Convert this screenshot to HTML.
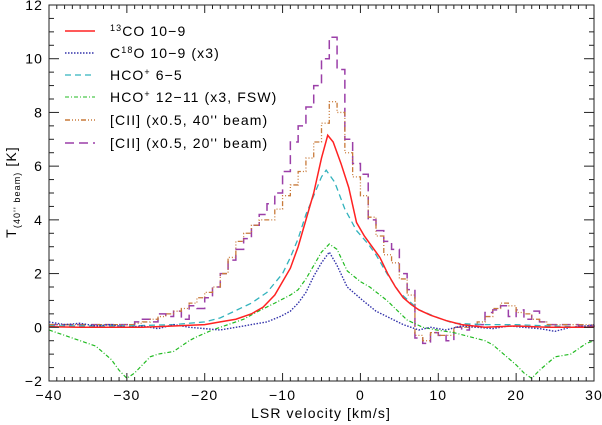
<!DOCTYPE html>
<html><head><meta charset="utf-8"><style>
body{margin:0;background:#fff}
svg{display:block;font-family:"Liberation Sans","DejaVu Sans",sans-serif}
text{letter-spacing:1.1px}
</style></head><body>
<svg id="c" width="602" height="425">
 <text x="321" y="418" text-anchor="middle" font-size="14">LSR velocity [km/s]</text>
 <text transform="translate(16,192) rotate(-90)" text-anchor="middle" font-size="14">T<tspan font-size="9" dy="4">(40'' beam)</tspan><tspan dy="-4"> [K]</tspan></text>
 <g font-size="14">
  <line x1="65" x2="95" y1="31" y2="31" stroke="#ff2222" stroke-width="1.4"/>
  <text x="110" y="36"><tspan font-size="9" dy="-5">13</tspan><tspan dy="5">CO 10−9</tspan></text>
  <line x1="65" x2="95" y1="53" y2="53" stroke="#3333aa" stroke-width="1.4" stroke-dasharray="1.5,1.5"/>
  <text x="110" y="58">C<tspan font-size="9" dy="-5">18</tspan><tspan dy="5">O 10−9 (x3)</tspan></text>
  <line x1="65" x2="95" y1="75" y2="75" stroke="#33b3bd" stroke-width="1.2" stroke-dasharray="6,4"/>
  <text x="110" y="80">HCO<tspan font-size="9" dy="-5">+</tspan><tspan dy="5"> 6−5</tspan></text>
  <line x1="65" x2="95" y1="97" y2="97" stroke="#22bb22" stroke-width="1.1" stroke-dasharray="4,2,1,2"/>
  <text x="110" y="102">HCO<tspan font-size="9" dy="-5">+</tspan><tspan dy="5"> 12−11 (x3, FSW)</tspan></text>
  <line x1="65" x2="95" y1="120" y2="120" stroke="#c87a3a" stroke-width="1.4" stroke-dasharray="5,2,1,2,1,2,1,2"/>
  <text x="110" y="125">[CII] (x0.5, 40'' beam)</text>
  <line x1="65" x2="95" y1="143" y2="143" stroke="#9b3fa8" stroke-width="1.6" stroke-dasharray="9,5"/>
  <text x="110" y="148">[CII] (x0.5, 20'' beam)</text>
 </g>
</svg>
<script>
const co13V=[-40,-36,-32,-28,-24,-20,-18,-16,-14,-12.5,-11,-10,-9,-8,-7,-6,-5,-4.2,-3.5,-2.5,-1.5,-0.5,0.5,1.5,2.5,3.5,4.5,5.5,6.5,7.5,9,11,13,16,20,24,30];
const co13T=[0.02,0,0,0,0.05,0.1,0.2,0.3,0.5,0.75,1.2,1.7,2.2,3.0,4.0,5.0,6.3,7.15,6.9,6.1,5.2,3.9,3.4,3.0,2.6,2.0,1.5,1.1,0.85,0.65,0.45,0.25,0.1,0,0.05,0,0];
const c18V=[-40,-38,-36,-34,-32,-30,-28,-26,-24,-22,-20,-18,-16,-14,-12,-10.3,-9,-8,-7,-6,-5,-4,-3,-1.7,0.3,2,3.4,5.5,7.5,9,11,13,15,17,19,21,23,25,27,29,30];
const c18T=[0.2,0.1,0.15,0.05,0.1,0,0.05,-0.05,0.1,0,-0.05,-0.1,0,0.1,0.2,0.4,0.6,0.9,1.3,1.9,2.4,2.8,2.3,1.5,1.0,0.6,0.4,0.1,-0.1,0,-0.1,0.05,0,-0.05,0.05,0,-0.05,-0.15,0,0.05,0.1];
const hco65V=[-40,-30,-24,-20,-18,-16.4,-14,-12,-10,-9,-8,-7,-6,-5,-4.4,-3.3,-2,-0.5,1,2,3.4,5,7.5,10,12,16,20,24,30];
const hco65T=[0.05,0.05,0.1,0.2,0.35,0.57,0.9,1.3,2.0,2.6,3.3,4.2,4.9,5.6,5.85,5.4,4.4,3.6,3.1,2.7,2.0,1.3,0.65,0.35,0.15,0.1,0.1,0.05,0];
const hco12V=[-40,-38,-36,-34,-32,-31,-30,-29,-28,-27,-26,-24,-22,-21,-19,-17,-15,-13.3,-11,-9,-8,-7,-6,-5,-4,-3,-1.7,0,1.2,3.4,6,8,9.8,12,14,16,17,18,20,21,22,23,25,27,29,30];
const hco12T=[-0.1,-0.3,-0.5,-0.7,-1.2,-1.6,-1.9,-1.7,-1.4,-1.1,-1.0,-0.9,-0.5,-0.35,-0.1,0.1,0.3,0.57,0.9,1.2,1.4,1.8,2.3,2.8,3.1,2.9,2.1,1.7,1.5,1.0,0.27,0,-0.1,-0.2,-0.35,-0.5,-0.65,-0.9,-1.4,-1.7,-1.9,-1.6,-1.1,-1.0,-0.6,-0.5];
const cii40V=[-30,-29,-28,-27,-26,-25,-24,-23,-22,-21,-20,-19,-18,-17,-16,-15,-14,-13,-12,-11,-10,-9,-8,-7,-6,-5,-4,-3,-2,-1,0,1,2,3,4,5,6,7,8,9,10,11,12,13,14,15,16,17,18,19,20,21,22,23,24,26,30];
const cii40T=[0.1,0.15,0.2,0.3,0.4,0.5,0.6,0.7,0.9,1.1,1.3,1.5,2.0,2.6,3.2,3.5,3.8,4.0,4.0,4.4,4.9,5.3,5.8,6.3,6.9,7.6,8.4,8.0,6.5,5.6,4.9,4.1,3.4,2.7,2.4,1.8,1.2,-0.3,-0.5,-0.2,-0.3,-0.3,0,0,0,0.2,0.4,0.7,0.9,0.8,0.55,0.5,0.3,0.2,0.1,0.1,0];
const cii20V=[-30,-29,-28,-27,-26,-25,-24,-23,-22,-21,-20,-19,-18,-17,-16,-15,-14,-13,-12,-11,-10,-9,-8,-7,-6,-5,-4,-3,-2,-1,0,1,2,3,4,5,6,7,8,9,10,11,12,13,14,15,16,17,18,19,20,21,22,23,24,26,28,30];
const cii20T=[0.1,0.2,0.3,0.2,0.5,0.4,0.6,0.3,0.8,0.7,1.1,1.5,2.0,2.5,2.9,3.3,3.8,4.2,4.6,5.0,5.8,6.9,7.5,8.2,9.0,10.0,10.8,9.6,7.0,6.1,5.7,4.0,3.6,3.2,2.9,2.0,1.4,-0.4,-0.6,-0.2,-0.3,-0.5,0,-0.1,0.1,0.1,0.55,0.65,0.8,0.4,0.65,0.3,0.6,0.2,0.1,0.1,0.05,0];
const xTicks=[-40,-30,-20,-10,0,10,20,30];
const yTicks=[-2,0,2,4,6,8,10,12];

const L=49,R=594,T=5,B=381;
const X=v=>L+(v+40)/70*(R-L);
const Y=v=>B-(v+2)/14*(B-T);
const svg=document.getElementById('c');
const NS='http://www.w3.org/2000/svg';
function mk(tag,attrs){const e=document.createElementNS(NS,tag);for(const k in attrs)e.setAttribute(k,attrs[k]);svg.appendChild(e);return e;}

const series=[
 {v:cii20V,t:cii20T,c:'#9b3fa8',d:'9,5',w:1.5,step:true,n:'cii-20-series'},
 {v:cii40V,t:cii40T,c:'#c87a3a',d:'5,2,1,2,1,2,1,2',w:1.3,step:true,n:'cii-40-series'},
 {v:hco65V,t:hco65T,c:'#33b3bd',d:'6,4',w:1.3,n:'hco-6-5-series'},
 {v:hco12V,t:hco12T,c:'#22bb22',d:'4,2,1,2',w:1.2,n:'hco-12-11-series'},
 {v:c18V,t:c18T,c:'#3333aa',d:'1.5,1.5',w:1.4,n:'c18o-series'},
 {v:co13V,t:co13T,c:'#ff2222',d:'',w:1.5,n:'co13-series'}
];
for(const s of series){
 let d='';
 for(let i=0;i<s.v.length;i++){
  const x=X(s.v[i]),y=Y(s.t[i]);
  if(i===0)d+='M'+X(-40)+','+y+'H'+x;
  else if(s.step)d+='H'+x+'V'+y;
  else d+='L'+x+','+y;
 }
 if(s.step)d+='H'+X(30);
 const p=mk('path',{d:d,fill:'none',stroke:s.c,'stroke-width':s.w,'stroke-dasharray':s.d});
 
 
}
const box=mk('rect',{x:L,y:T,width:R-L,height:B-T,fill:'none',stroke:'#222','stroke-width':1});


for(let v=-40;v<=30;v++){
 const len=v%10===0?8:4;
 mk('line',{x1:X(v),x2:X(v),y1:B,y2:B-len,stroke:'#222'});
 mk('line',{x1:X(v),x2:X(v),y1:T,y2:T+len,stroke:'#222'});
}
for(let v=-2;v<=12;v+=0.5){
 const len=v%2===0?10:5;
 mk('line',{x1:L,x2:L+len,y1:Y(v),y2:Y(v),stroke:'#222'});
 mk('line',{x1:R,x2:R-len,y1:Y(v),y2:Y(v),stroke:'#222'});
}
for(const v of xTicks){const t=mk('text',{x:X(v),y:B+19,'text-anchor':'middle','font-size':14});t.textContent=(v<0?'\u2212'+(-v):v);
 
 }
for(const v of yTicks){const t=mk('text',{x:L-6,y:Y(v)+5,'text-anchor':'end','font-size':14});t.textContent=(v<0?'\u2212'+(-v):v);
 
 }
</script>
</body></html>
